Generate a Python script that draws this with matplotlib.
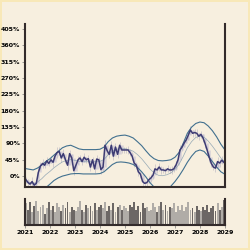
import matplotlib
matplotlib.use("Agg")
import matplotlib.pyplot as plt
import matplotlib.dates as mdates
import numpy as np
import pandas as pd
from datetime import datetime

# monthly closes (percent), 2021-01 .. 2028-12
months = pd.date_range("2021-01-01", periods=96, freq="MS") + pd.Timedelta(days=14)
close = [-10, -18, -22, -15, -25, -20, 10, 28, 35, 30, 42, 35,
         45, 38, 55, 65, 68, 50, 62, 45, 30, 62, 50, 15,
         30, 45, 50, 40, 52, 45, 48, 25, 45, 20, 47, 45,
         18, 25, 85, 70, 60, 85, 55, 80, 60, 85, 72, 72,
         72, 72, 65, 55, 36, 30, 12, 5, -15, -20, -18, -10,
         -5, 3, 20, 17, 25, 17, 17, 15, 20, 17, 17, 20,
         30, 45, 72, 80, 91, 100, 113, 127, 118, 120, 118, 110,
         115, 105, 90, 72, 52, 35, 25, 22, 40, 36, 44, 38]
# high-low half range of each month
wick = [8, 10, 7, 12, 9, 8, 14, 10, 12, 9, 11, 8,
        10, 12, 9, 14, 11, 10, 12, 9, 13, 11, 10, 12,
        9, 11, 8, 10, 12, 9, 10, 11, 9, 12, 10, 8,
        12, 10, 14, 11, 9, 12, 10, 11, 9, 10, 8, 9,
        8, 10, 9, 12, 11, 10, 12, 9, 11, 8, 10, 9,
        10, 12, 14, 9, 11, 10, 9, 8, 10, 9, 11, 10,
        12, 11, 14, 10, 12, 9, 13, 11, 10, 9, 12, 10,
        9, 11, 13, 10, 12, 11, 9, 12, 14, 10, 11, 9]
volume = [0.85, 0.6, 0.9, 0.5, 0.75, 0.95, 0.55, 0.7, 0.8, 0.45, 0.65, 0.9,
          0.6, 0.75, 0.5, 0.85, 0.7, 0.55, 0.8, 0.65, 0.9, 0.5, 0.7, 0.6,
          0.55, 0.7, 0.95, 0.6, 0.5, 0.8, 0.65, 0.75, 0.55, 0.85, 0.6, 0.7,
          0.8, 0.65, 0.9, 0.55, 0.75, 0.6, 0.85, 0.5, 0.7, 0.8, 0.6, 0.75,
          0.65, 0.55, 0.8, 0.7, 0.9, 0.6, 0.75, 0.5, 0.85, 0.65, 0.7, 0.55,
          0.6, 0.85, 0.7, 0.5, 0.75, 0.9, 0.6, 0.8, 0.55, 0.7, 0.65, 0.85,
          0.5, 0.75, 0.6, 0.8, 0.55, 0.7, 0.9, 0.6, 0.65, 0.5, 0.75, 0.6,
          0.55, 0.7, 0.6, 0.8, 0.5, 0.65, 0.75, 0.55, 0.85, 0.6, 0.7, 1.0]

# bollinger envelope read every two months, 2021-01 .. 2029-01
band_dates = pd.date_range("2021-01-01", periods=49, freq="2MS")
upper_band = [21, 19, 17, 22, 30, 40, 48, 58, 68, 78, 83, 85,
              80, 75, 73, 73, 73, 73, 74, 80, 95, 105, 110, 112,
              113, 110, 105, 95, 84, 70, 57, 48, 43, 42, 43, 45,
              52, 65, 90, 118, 135, 145, 149, 147, 138, 125, 108, 88, 72]
lower_band = [-50, -55, -60, -55, -45, -32, -22, -12, -5, 0, 3, 6,
              7, 7, 6, 6, 6, 6, 7, 12, 22, 32, 38, 39,
              38, 36, 32, 24, 12, -2, -18, -30, -38, -40, -36, -28,
              -15, 0, 18, 38, 55, 68, 72, 68, 55, 40, 25, 12, 5]

years = list(range(2021, 2030))
pct_ticks = list(range(0, 406, 45))

bg = "#f7efdf"
spine_col = "#332b2b"

close = np.array(close)
opens = np.concatenate([[close[0]], close[:-1]])
wick = np.array(wick)
mid_band = (np.array(upper_band) + np.array(lower_band)) / 2

fig = plt.figure(figsize=(2.5, 2.5), dpi=100, facecolor=bg)
fig.patch.set_edgecolor("#f8e8b8")
fig.patch.set_linewidth(1.5)
ax = fig.add_axes([0.1, 0.252, 0.8, 0.652], facecolor=bg)
axv = fig.add_axes([0.1, 0.1, 0.8, 0.104], facecolor=bg, sharex=ax)

# candles
ax.vlines(months, close - wick, close + wick, color="#8c88ab", alpha=0.4, lw=0.6)
ax.vlines(months, opens, close, color="#c2bdd3", alpha=0.6, lw=1.8)
# bands
ax.plot(band_dates, upper_band, color="#41708f", lw=0.8)
ax.plot(band_dates, lower_band, color="#41708f", lw=0.8)
ax.plot(band_dates, mid_band, color="#7d97ab", lw=0.5, alpha=0.8)
# price
ax.plot(months, close, color="#3d3b73", lw=1.1)

ax.set_ylim(-30, 419)
ax.set_yticks(pct_ticks)
ax.set_yticklabels([f"{t}%" for t in pct_ticks])
ax.set_xlim(datetime(2021, 1, 1), datetime(2029, 1, 1))
ax.spines["top"].set_visible(False)
for s in ["left", "right", "bottom"]:
    ax.spines[s].set_linewidth(1.5)
    ax.spines[s].set_color(spine_col)
ax.tick_params(axis="y", labelsize=4.5, length=2, width=0.5, color="#777777", pad=1.5)
ax.tick_params(axis="x", length=0, labelbottom=False)
for lab in ax.get_yticklabels():
    lab.set_fontweight("bold")

# volume
vcol = ["#5d5858" if c < o else "#a9a5a1" for c, o in zip(close, opens)]
axv.bar(months, volume, width=27, color=vcol, alpha=0.9)
axv.set_ylim(0, 1.02)
axv.set_yticks([])
axv.spines["top"].set_visible(False)
for s in ["left", "right", "bottom"]:
    axv.spines[s].set_linewidth(1.5)
    axv.spines[s].set_color(spine_col)
axv.set_xticks([datetime(y, 1, 1) for y in years])
axv.xaxis.set_major_formatter(mdates.DateFormatter("%Y"))
axv.tick_params(axis="x", labelsize=4.5, length=2, width=0.5, color="#777777", pad=1.5)
for lab in axv.get_xticklabels():
    lab.set_fontweight("bold")

fig.savefig("out.png", dpi=100, facecolor=bg, edgecolor=fig.get_edgecolor())
